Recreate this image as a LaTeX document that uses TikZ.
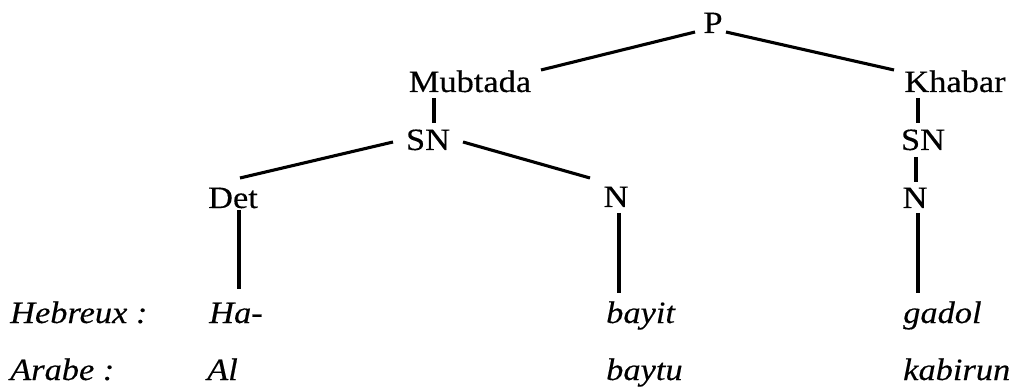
\documentclass[tikz,border=0pt]{standalone}
\usepackage{fontspec}
\setmainfont[FakeStretch=1.11,FakeBold=0.3]{Liberation Serif}
\usetikzlibrary{calc}
\tikzset{
  lbl/.style={inner sep=0pt, anchor=base, font=\fontsize{31}{32}\selectfont},
  word/.style={inner sep=0pt, anchor=base west, font=\fontsize{31}{32}\selectfont\itshape},
  edge/.style={line width=3.1pt, black}
}
\begin{document}
\begin{tikzpicture}[x=1pt,y=1pt]
\useasboundingbox (0,0) rectangle (1011,-387);
% tree nodes
\node[lbl] (P)   at (713,-33)  {P};
\node[lbl] (mub) at (470,-92)  {Mubtada};
\node[lbl] (kha) at (955,-92)  {Khabar};
\node[lbl] (snl) at (428,-150) {SN};
\node[lbl] (snr) at (923,-150) {SN};
\node[lbl] (det) at (233,-208) {Det};
\node[lbl] (nm)  at (616,-207) {N};
\node[lbl] (nr)  at (915,-208) {N};
% words
\node[word] (heb)   at (10,-323)  {Hebreux :};
\node[word] (ha)    at (209,-323) {Ha-};
\node[word] (bayit) at (606,-323) {bayit};
\node[word] (gadol) at (903,-323) {gadol};
\node[word] (ar)    at (10,-380)  {Arabe :};
\node[word] (al)    at (207,-380) {Al};
\node[word] (baytu) at (606,-380) {baytu};
\node[word] (kab)   at (903,-380) {kabirun};
% connectors
\draw[edge] ($(P.base)+(-18,1)$) -- ($(mub.base)+(71,22)$);
\draw[edge] ($(P.base)+(13,1)$) -- ($(kha.base)+(-61,22)$);
\draw[edge] ($(mub.base)+(-36,-6)$) -- ($(snl.base)+(6,27)$);
\draw[edge] ($(snl.base)+(-35,8)$) -- ($(det.base)+(7,30)$);
\draw[edge] ($(snl.base)+(35,8)$) -- ($(nm.base)+(-26,29)$);
\draw[edge] ($(kha.base)+(-37,-6)$) -- ($(snr.base)+(-5,27)$);
\draw[edge] ($(snr.base)+(-7,-7)$) -- ($(nr.base)+(1,26)$);
\draw[edge] ($(det.base)+(6,-2)$) -- ($(ha.base west)+(30,34)$);
\draw[edge] ($(nm.base)+(3,-6)$) -- ($(bayit.base west)+(13,30)$);
\draw[edge] ($(nr.base)+(3,-5)$) -- ($(gadol.base west)+(15,30)$);
\end{tikzpicture}
\end{document}
